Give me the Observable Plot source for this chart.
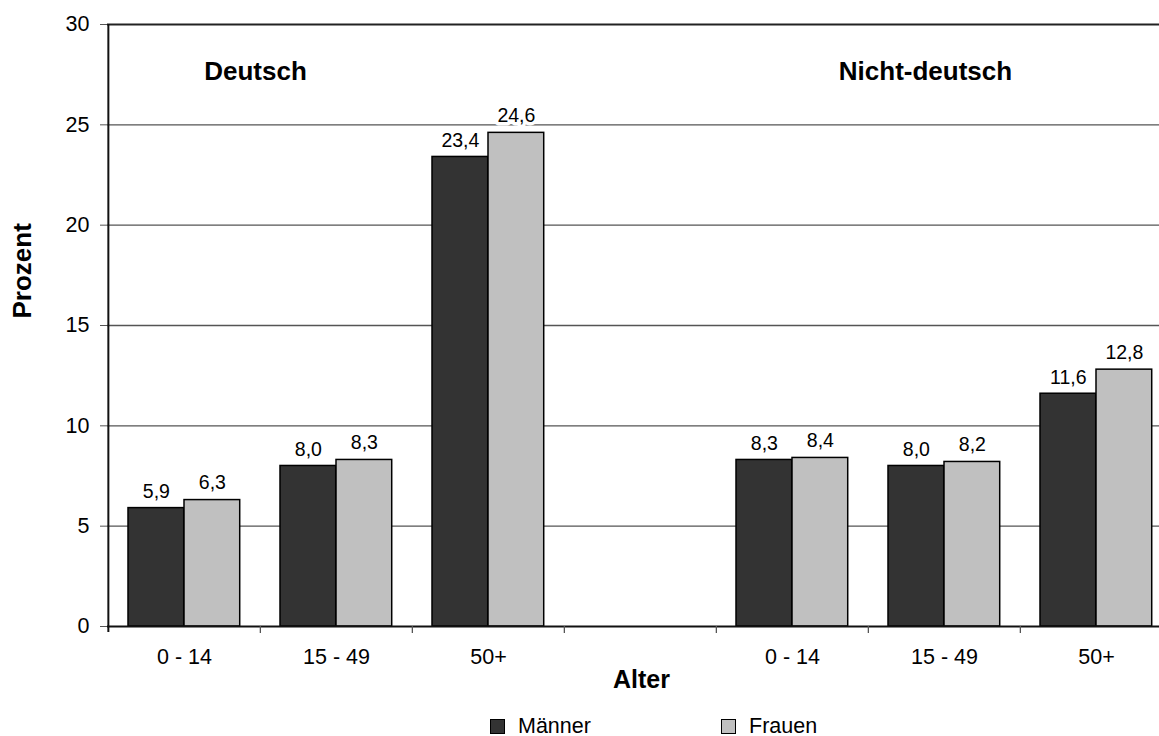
<!DOCTYPE html>
<html>
<head>
<meta charset="utf-8">
<script src="https://cdn.jsdelivr.net/npm/d3@7"></script>
<script src="https://cdn.jsdelivr.net/npm/@observablehq/plot@0.6"></script>
<style>
  html, body { margin: 0; padding: 0; background: #fff; overflow: hidden; }
  #wrap { position: relative; width: 1159px; height: 736px; font-family: "Liberation Sans", Arial, sans-serif; }
  .leg { position: absolute; top: 714px; display: flex; align-items: center; font-size: 21.5px; color: #000; }
  .sw { width: 13px; height: 13px; border: 1px solid #000; margin-right: 13px; }
</style>
</head>
<body>
<div id="wrap"></div>
<script>
// ---- data ----
const groups = ["Deutsch", "Nicht-deutsch"];
const ages = ["0 - 14", "15 - 49", "50+"];
const maenner = [5.9, 8.0, 23.4, 8.3, 8.0, 11.6];
const frauen = [6.3, 8.3, 24.6, 8.4, 8.2, 12.8];
const yTicks = [0, 5, 10, 15, 20, 25, 30];
const seriesNames = ["Männer", "Frauen"];
const seriesColors = ["#333333", "#c0c0c0"];

// slots: 3 ages for Deutsch, an empty gap, 3 ages for Nicht-deutsch
const slots = [
  ...ages.map(a => groups[0] + "|" + a),
  "gap",
  ...ages.map(a => groups[1] + "|" + a)
];
const rows = [];
groups.forEach((g, gi) => ages.forEach((a, ai) => {
  rows.push({slot: g + "|" + a, m: maenner[gi * 3 + ai], f: frauen[gi * 3 + ai]});
}));

const fmt = v => v.toFixed(1).replace(".", ",");
const FONT = "Liberation Sans, Arial, sans-serif";

const xRange = [107, 1173];
const bw = (xRange[1] - xRange[0]) / slots.length;
const barW = 56;
const pad = 20;

const chart = Plot.plot({
  width: 1159,
  height: 700,
  marginLeft: 107,
  marginRight: 0,
  marginTop: 24,
  marginBottom: 74,
  style: {fontFamily: FONT, background: "white", color: "#000"},
  x: {domain: slots, range: xRange, padding: 0, axis: null},
  y: {domain: [0, 30], range: [626, 24], axis: null},
  marks: [
    // gridlines
    Plot.ruleY(yTicks.filter(t => t > 0 && t < 30), {stroke: "#555", strokeWidth: 1.3}),
    Plot.ruleY([30], {stroke: "#222", strokeWidth: 2}),
    // bars
    Plot.barY(rows, {x: "slot", y: "m", fill: seriesColors[0], stroke: "#000", strokeWidth: 1.5,
      insetLeft: pad, insetRight: bw - pad - barW}),
    Plot.barY(rows, {x: "slot", y: "f", fill: seriesColors[1], stroke: "#000", strokeWidth: 1.5,
      insetLeft: pad + barW, insetRight: bw - pad - 2 * barW}),
    // value labels
    Plot.text(rows, {x: "slot", y: "m", text: d => fmt(d.m), dx: pad + barW / 2 - bw / 2, dy: -10,
      lineAnchor: "bottom", fontSize: 19.5, fontFamily: FONT, fill: "#000",
      stroke: "white", strokeWidth: 7, paintOrder: "stroke"}),
    Plot.text(rows, {x: "slot", y: "f", text: d => fmt(d.f), dx: pad + 1.5 * barW - bw / 2, dy: -11,
      lineAnchor: "bottom", fontSize: 19.5, fontFamily: FONT, fill: "#000",
      stroke: "white", strokeWidth: 7, paintOrder: "stroke"}),
    // x axis baseline and slot boundary ticks
    Plot.ruleY([0], {stroke: "#111", strokeWidth: 2}),
    Plot.ruleX(slots.slice(1), {dx: -bw / 2, y1: 0, y2: -0.35, stroke: "#555", strokeWidth: 1.3}),
    // left axis line
    Plot.ruleX([slots[0]], {dx: -bw / 2, y1: -0.3, y2: 30, stroke: "#111", strokeWidth: 2}),
    // y axis ticks & labels
    Plot.axisY({ticks: yTicks, tickSize: 7, tickPadding: 11, fontSize: 21.5, fontFamily: FONT,
      stroke: "#555", label: null}),
    // x axis labels
    Plot.axisX({tickSize: 0, tickPadding: 22, fontSize: 21.5, fontFamily: FONT, label: null,
      tickFormat: d => d === "gap" ? "" : d.split("|")[1]}),
    // axis titles
    Plot.text(["Prozent"], {frameAnchor: "left", dx: -85, dy: -7, rotate: -90, fontWeight: "bold",
      fontSize: 26, fontFamily: FONT, fill: "#000"}),
    Plot.text(["Alter"], {frameAnchor: "bottom", dx: 8, dy: 61, fontWeight: "bold",
      fontSize: 25, fontFamily: FONT, fill: "#000"}),
    // group headers
    Plot.text([groups[0]], {x: [slots[1]], frameAnchor: "top", dx: -81, dy: 37, fontWeight: "bold",
      fontSize: 26, fontFamily: FONT, fill: "#000"}),
    Plot.text([groups[1]], {x: [slots[5]], frameAnchor: "top", dx: -19, dy: 37, fontWeight: "bold",
      fontSize: 26, fontFamily: FONT, fill: "#000"})
  ]
});

const wrap = document.getElementById("wrap");
wrap.appendChild(chart);

// legend below the chart
const legendLefts = [490, 721];
seriesNames.forEach((name, i) => {
  const item = document.createElement("div");
  item.className = "leg";
  item.style.left = legendLefts[i] + "px";
  const sw = document.createElement("div");
  sw.className = "sw";
  sw.style.background = seriesColors[i];
  const lab = document.createElement("span");
  lab.textContent = name;
  item.appendChild(sw);
  item.appendChild(lab);
  wrap.appendChild(item);
});
</script>
</body>
</html>
